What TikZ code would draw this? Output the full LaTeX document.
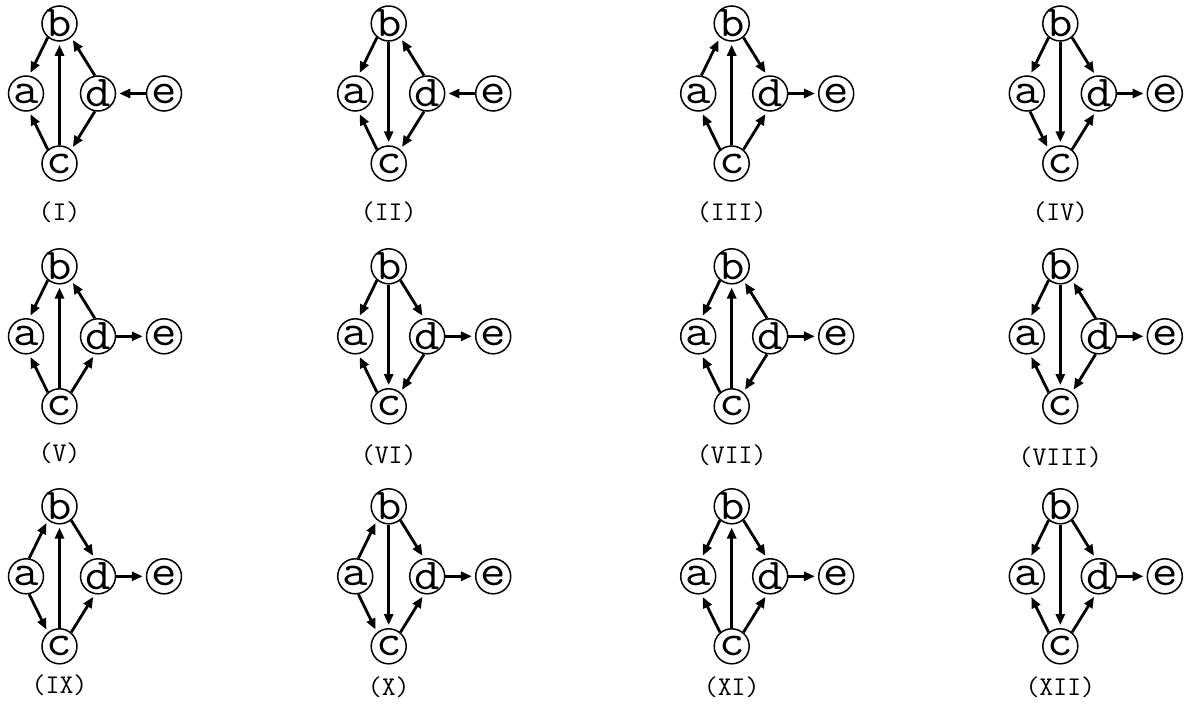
\documentclass[tikz,border=0pt]{standalone}
\usepackage{fontspec}
\usetikzlibrary{arrows.meta}

% vertex letter, slightly widened, kept from widening the circle
\newcommand\vl[1]{\makebox[0pt]{\scalebox{1.12}[1]{#1}}}

% one five-vertex graph: prefix, x of b, y of b, caption, caption y
\newcommand\dagnodes[5]{%
  \node[vtx] (#1b) at (#2,#3) {\vl{b}};
  \node[vtx] (#1a) at (#2-33.5,#3+70) {\vl{a}};
  \node[vtx] (#1d) at (#2+38.5,#3+70) {\vl{d}};
  \node[vtx] (#1e) at (#2+104.5,#3+70) {\vl{e}};
  \node[vtx] (#1c) at (#2,#3+140) {\vl{c}};
  \node[gcaption] (#1lab) at (#2,#5) {#4};
}

% directed edges between fixed attachment points
\newcommand\Eab[1]{\draw[dedge] (#1a.80) -- (#1b.230);}
\newcommand\Eba[1]{\draw[dedge] (#1b.230) -- (#1a.80);}
\newcommand\Eac[1]{\draw[dedge] (#1a.280) -- (#1c.130);}
\newcommand\Eca[1]{\draw[dedge] (#1c.130) -- (#1a.280);}
\newcommand\Ebc[1]{\draw[dedge] (#1b.270) -- (#1c.90);}
\newcommand\Ecb[1]{\draw[dedge] (#1c.90) -- (#1b.270);}
\newcommand\Ebd[1]{\draw[dedge] (#1b.310) -- (#1d.100);}
\newcommand\Edb[1]{\draw[dedge] (#1d.100) -- (#1b.310);}
\newcommand\Ecd[1]{\draw[dedge] (#1c.50) -- (#1d.260);}
\newcommand\Edc[1]{\draw[dedge] (#1d.260) -- (#1c.50);}
\newcommand\Ede[1]{\draw[dedge] (#1d.0) -- (#1e.180);}
\newcommand\Eed[1]{\draw[dedge] (#1e.180) -- (#1d.0);}

\begin{document}
\begin{tikzpicture}[x=1pt,y=-1pt,
  vtx/.style={circle, draw, line width=1.5pt, minimum size=35pt, inner sep=0pt,
              font=\fontsize{44}{44}\selectfont\ttfamily},
  gcaption/.style={inner sep=0pt, font=\fontsize{27}{27}\selectfont\ttfamily},
  dedge/.style={line width=2.8pt, -{Triangle[length=11pt,width=9pt]}, shorten >=3pt}]
\useasboundingbox (0,0) rectangle (1190,704);

% row 1
\dagnodes{g1}{59.5}{23.5}{(I)}{212}
\Eba{g1}\Eca{g1}\Ecb{g1}\Edb{g1}\Edc{g1}\Eed{g1}
\dagnodes{g2}{388.7}{23.5}{(II)}{212}
\Eba{g2}\Eca{g2}\Ebc{g2}\Edb{g2}\Edc{g2}\Eed{g2}
\dagnodes{g3}{731.7}{23.5}{(III)}{212}
\Eab{g3}\Eca{g3}\Ecb{g3}\Ebd{g3}\Ecd{g3}\Ede{g3}
\dagnodes{g4}{1060.3}{23.5}{(IV)}{212}
\Eba{g4}\Eac{g4}\Ebc{g4}\Ebd{g4}\Ecd{g4}\Ede{g4}

% row 2
\dagnodes{g5}{59.5}{266.3}{(V)}{453}
\Eba{g5}\Eca{g5}\Ecb{g5}\Edb{g5}\Ecd{g5}\Ede{g5}
\dagnodes{g6}{388.7}{266.3}{(VI)}{455}
\Eba{g6}\Eca{g6}\Ebc{g6}\Ebd{g6}\Edc{g6}\Ede{g6}
\dagnodes{g7}{731.7}{266.3}{(VII)}{455}
\Eba{g7}\Eca{g7}\Ecb{g7}\Edb{g7}\Edc{g7}\Ede{g7}
\dagnodes{g8}{1060.3}{266.3}{(VIII)}{457}
\Eba{g8}\Eca{g8}\Ebc{g8}\Edb{g8}\Edc{g8}\Ede{g8}

% row 3
\dagnodes{g9}{59.5}{506.3}{(IX)}{685}
\Eab{g9}\Eac{g9}\Ecb{g9}\Ebd{g9}\Ecd{g9}\Ede{g9}
\dagnodes{g10}{388.7}{506.3}{(X)}{687}
\Eab{g10}\Eac{g10}\Ebc{g10}\Ebd{g10}\Ecd{g10}\Ede{g10}
\dagnodes{g11}{731.7}{506.3}{(XI)}{687}
\Eba{g11}\Eca{g11}\Ecb{g11}\Ebd{g11}\Ecd{g11}\Ede{g11}
\dagnodes{g12}{1060.3}{506.3}{(XII)}{687}
\Eba{g12}\Eca{g12}\Ebc{g12}\Ebd{g12}\Ecd{g12}\Ede{g12}
\end{tikzpicture}
\end{document}
